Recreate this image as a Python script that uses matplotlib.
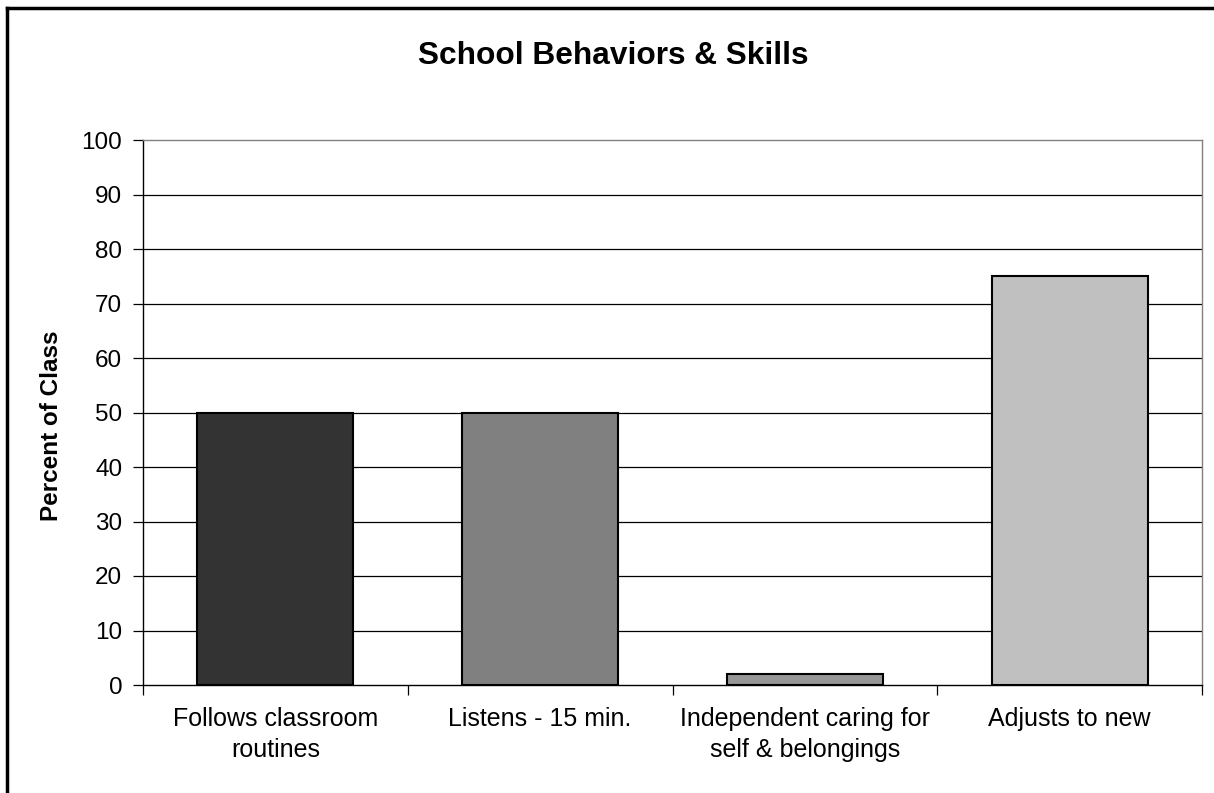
import matplotlib
matplotlib.use('Agg')
import matplotlib.pyplot as plt
from matplotlib.lines import Line2D

categories = ['Follows classroom\nroutines', 'Listens - 15 min.',
              'Independent caring for\nself & belongings', 'Adjusts to new']
values = [50, 50, 2, 75]
colors = ['#333333', '#808080', '#969696', '#c0c0c0']
yticks = list(range(0, 101, 10))

plt.rcParams['font.family'] = ['Liberation Sans', 'DejaVu Sans']

W, H = 1214, 793
fig = plt.figure(figsize=(W / 100, H / 100), dpi=100)
ax = fig.add_axes([143 / W, 1 - 685 / H, (1202 - 143) / W, (685 - 140) / H])

# outer frame (only left and top visible in the original)
fig.add_artist(Line2D([7 / W, 7 / W], [0, 1 - 8 / H], transform=fig.transFigure,
                      color='black', lw=2.5))
fig.add_artist(Line2D([7 / W, 1], [1 - 8 / H, 1 - 8 / H], transform=fig.transFigure,
                      color='black', lw=2.5))

x = range(len(categories))
ax.bar(x, values, width=0.59, color=colors, edgecolor='black', linewidth=1.5, zorder=3)

ax.set_xlim(-0.5, len(categories) - 0.5)
ax.set_ylim(0, 100)
ax.set_yticks(yticks)
for y in yticks[1:-1]:
    ax.axhline(y, color='black', lw=0.9, zorder=1)

ax.set_xticks([i + 0.5 for i in range(-1, len(categories))])
ax.set_xticklabels([])
ax.set_xticks(list(x), minor=True)
ax.set_xticklabels(categories, minor=True, fontsize=18, linespacing=1.35)
ax.tick_params(axis='x', which='minor', length=0, pad=16)
ax.tick_params(axis='x', which='major', length=7, direction='out', width=0.9)
ax.tick_params(axis='y', length=7, direction='out', width=0.9, labelsize=17.5, pad=8)

for s in ['left', 'bottom']:
    ax.spines[s].set_color('black')
    ax.spines[s].set_linewidth(1.0)
for s in ['top', 'right']:
    ax.spines[s].set_color('#808080')
    ax.spines[s].set_linewidth(1.0)

fig.text(51 / W, 1 - 426 / H, 'Percent of Class', fontsize=17.5, fontweight='bold',
         rotation=90, ha='center', va='center')
fig.text(613 / W, 1 - 64 / H, 'School Behaviors & Skills',
         fontsize=22.8, fontweight='bold', ha='center', va='baseline')

fig.savefig('out.png', dpi=100)
